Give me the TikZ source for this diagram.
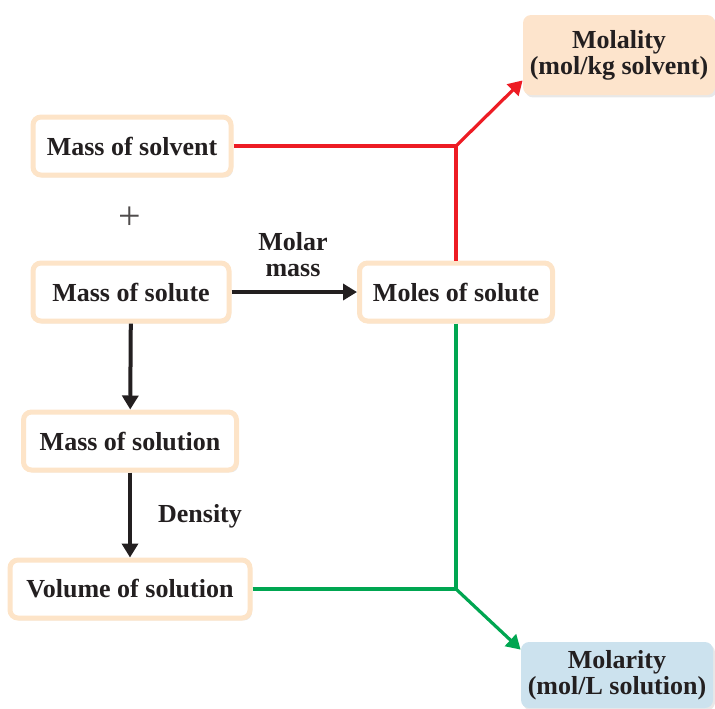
\documentclass[tikz,border=0pt]{standalone}
\usepackage{fontspec}
\setmainfont{Liberation Serif}
\usetikzlibrary{arrows.meta, positioning, shadows}
\definecolor{boxrim}{RGB}{253,228,200}
\definecolor{molalfill}{RGB}{253,228,204}
\definecolor{molarfill}{RGB}{204,226,238}
\definecolor{linkred}{RGB}{237,28,36}
\definecolor{linkgreen}{RGB}{0,166,81}
\definecolor{inkdark}{RGB}{35,31,32}

\begin{document}
\begin{tikzpicture}[
  x=0.5pt, y=-0.5pt,
  font=\fontsize{13}{13}\selectfont\bfseries, text=inkdark,
  qty/.style={draw=boxrim, line width=2.5pt, fill=white, rounded corners=4pt,
    minimum height=29pt, inner sep=0pt,
    drop shadow={opacity=0.18, shadow xshift=1pt, shadow yshift=-1.2pt}},
  res/.style={fill=#1, rounded corners=4pt, minimum width=96pt, inner sep=0pt,
    align=center, drop shadow={opacity=0.18, shadow xshift=1pt, shadow yshift=-1.2pt}},
  conv/.style={draw=inkdark, line width=2pt, -{Triangle[length=7pt,width=8pt]}},
  redlink/.style={draw=linkred, line width=1.6pt},
  greenlink/.style={draw=linkgreen, line width=1.6pt},
  tip/.style={-{Triangle[length=7pt,width=8pt]}}
  ]
  \useasboundingbox (0,0) rectangle (715,708);
  % left column
  \node[qty, minimum width=99pt] (solvent) at (132,146) {Mass of solvent};
  \node[font=\fontsize{20}{20}\selectfont, text=inkdark!80] (plus) at (130,218) {+};
  \node[qty, minimum width=98pt] (solute) at (131,292) {Mass of solute};
  \node[qty, minimum width=106.5pt] (solution) at (130,441) {Mass of solution};
  \node[qty, minimum width=120pt] (volume) at (130,589) {Volume of solution};
  % middle
  \node[qty, minimum width=96.5pt] (moles) at (456,292) {Moles of solute};
  % results
  \node[res=molalfill, minimum height=40pt] (molality) at (619,55) {Molality\\(mol/kg solvent)};
  \node[res=molarfill, minimum height=33pt] (molarity) at (617,675) {Molarity\\(mol/L solution)};
  % labels
  \node[align=center] (molarmass) at (293,255) {Molar\\mass};
  \node (density) at (200,516) {Density};
  % junctions
  \coordinate (rj) at (moles.north |- solvent.east);
  \coordinate (gj) at (moles.south |- volume.east);
  \coordinate (mlin) at ([yshift=7.5pt]molality.south west);
  \coordinate (mrin) at ([yshift=-4pt]molarity.north west);
  % conversions
  \draw[conv] (solute) -- (moles);
  \draw[conv] (solute) -- (solution);
  \draw[conv] (solution) -- (volume);
  % molality path
  \draw[redlink] (solvent.east) -- (rj);
  \draw[redlink] (moles.north) -- (rj);
  \draw[redlink, tip] (rj) -- (mlin);
  % molarity path
  \draw[greenlink] (volume.east) -- (gj);
  \draw[greenlink] (moles.south) -- (gj);
  \draw[greenlink, tip] (gj) -- (mrin);
\end{tikzpicture}
\end{document}
